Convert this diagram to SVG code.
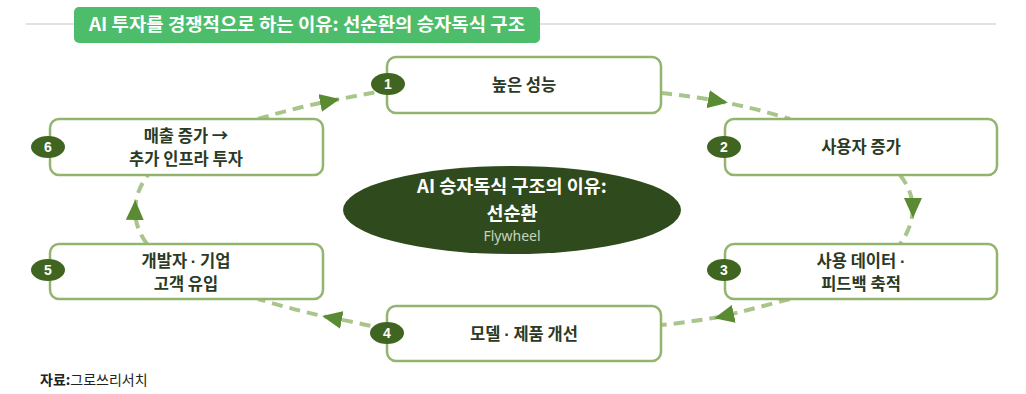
<svg xmlns="http://www.w3.org/2000/svg" width="1026" height="394" viewBox="0 0 1026 394">
<style>
.box{fill:#fff;stroke:#93b46e;stroke-width:2.5}
.badge{fill:#3f6521}
.bnum{font-family:"Liberation Sans",Arial,sans-serif;font-weight:bold;font-size:14px;fill:#fff;text-anchor:middle}
.lbl{font-family:"Noto Sans CJK KR","Noto Sans",sans-serif;font-weight:bold;font-size:16.5px;fill:#2b3a24;text-anchor:middle}
.dot{font-family:"Liberation Sans",Arial,sans-serif}
.con{fill:none;stroke:#a9c58b;stroke-width:4;stroke-dasharray:11 7;marker-mid:url(#arr)}
.ctr{font-family:"Noto Sans CJK KR",sans-serif;font-weight:bold;font-size:18.5px;fill:#fff;text-anchor:middle}
</style>
<defs>
<marker id="arr" markerUnits="userSpaceOnUse" markerWidth="20" markerHeight="18" refX="10" refY="9" orient="auto" viewBox="0 0 20 18">
<path d="M0,0 L20,9 L0,18 z" fill="#5a8a31"/>
</marker>
</defs>
<rect width="1026" height="394" fill="#fff"/>
<g id="title">
<line x1="26" y1="24" x2="996" y2="24" stroke="#d9d9d9" stroke-width="1.5"/>
<rect x="74" y="7" width="466" height="36" rx="5" fill="#4dbd6b"/>
<text x="307" y="31" font-family="Noto Sans CJK KR,sans-serif" font-weight="bold" font-size="18" fill="#fff" text-anchor="middle" textLength="436" lengthAdjust="spacingAndGlyphs">AI 투자를 경쟁적으로 하는 이유: 선순환의 승자독식 구조</text>
</g>
<g id="connectors">
<path class="con" d="M258,119 Q294,108 330,101 Q360,95 388,90"/>
<path class="con" d="M661,93 Q690,96 718,101 Q755,108 790,119"/>
<path class="con" d="M900,175 Q912,190 913,208 Q912,228 900,244"/>
<path class="con" d="M790,299 Q756,308 724,316 Q692,322 661,325"/>
<path class="con" d="M388,330 Q360,323 332,318 Q294,310 258,299"/>
<path class="con" d="M147,244 Q135,228 135,210 Q136,190 148,175"/>
</g>
<g id="center">
<ellipse cx="512" cy="210" rx="169" ry="44" fill="#2f4b1e"/>
<text class="ctr" x="512" y="193">AI 승자독식 구조의 이유:</text>
<text class="ctr" x="512" y="220">선순환</text>
<text x="512" y="241" font-family="Noto Sans,Liberation Sans,sans-serif" font-size="14" fill="#c5d3ba" text-anchor="middle">Flywheel</text>
</g>
<g id="node1">
<rect class="box" x="387" y="57" width="274" height="56" rx="9"/>
<text class="lbl" x="524" y="91">높은 성능</text>
<ellipse class="badge" cx="388" cy="84" rx="17" ry="11"/>
<text class="bnum" x="388" y="89">1</text>
</g>
<g id="node2">
<rect class="box" x="725" y="119" width="272" height="56" rx="9"/>
<text class="lbl" x="861" y="153">사용자 증가</text>
<ellipse class="badge" cx="724" cy="147" rx="17" ry="11"/>
<text class="bnum" x="724" y="152">2</text>
</g>
<g id="node3">
<rect class="box" x="725" y="244" width="272" height="55" rx="9"/>
<text class="lbl" x="861" y="267">사용 데이터 <tspan class="dot">·</tspan></text>
<text class="lbl" x="861" y="290">피드백 축적</text>
<ellipse class="badge" cx="724" cy="270" rx="17" ry="11"/>
<text class="bnum" x="724" y="275">3</text>
</g>
<g id="node4">
<rect class="box" x="387" y="306" width="274" height="55" rx="9"/>
<text class="lbl" x="524" y="340">모델 <tspan class="dot">·</tspan> 제품 개선</text>
<ellipse class="badge" cx="387" cy="333" rx="17" ry="11"/>
<text class="bnum" x="387" y="338">4</text>
</g>
<g id="node5">
<rect class="box" x="50" y="244" width="273" height="55" rx="9"/>
<text class="lbl" x="186" y="267">개발자 <tspan class="dot">·</tspan> 기업</text>
<text class="lbl" x="186" y="290">고객 유입</text>
<ellipse class="badge" cx="48" cy="270" rx="17" ry="11"/>
<text class="bnum" x="48" y="275">5</text>
</g>
<g id="node6">
<rect class="box" x="50" y="119" width="273" height="56" rx="9"/>
<text class="lbl" x="186" y="142">매출 증가 →</text>
<text class="lbl" x="186" y="165">추가 인프라 투자</text>
<ellipse class="badge" cx="48" cy="147" rx="17" ry="11"/>
<text class="bnum" x="48" y="152">6</text>
</g>
<g id="source">
<text x="40" y="385" font-family="Noto Sans CJK KR,sans-serif" font-size="14" fill="#222"><tspan font-weight="bold">자료:</tspan>그로쓰리서치</text>
</g>
</svg>
